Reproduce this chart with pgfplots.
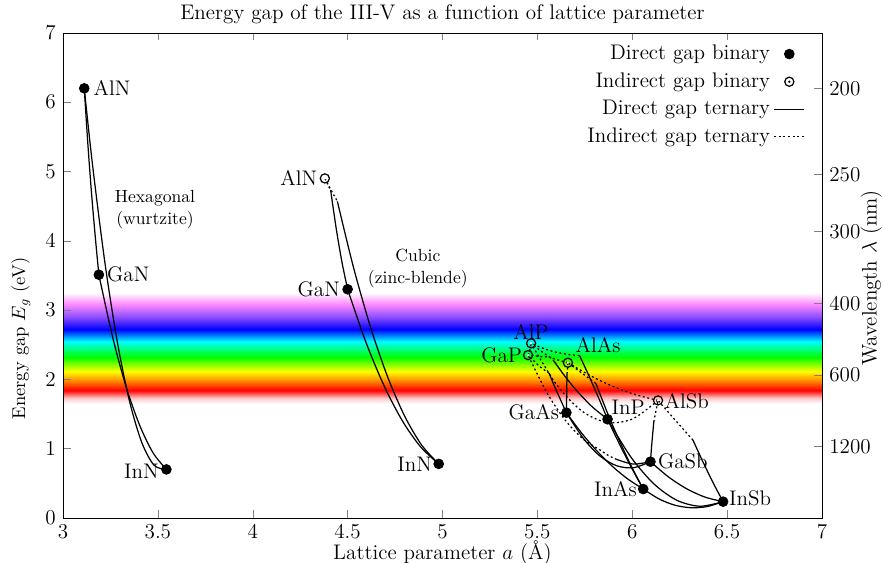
\documentclass[12pt,border=0pt]{standalone}
\usepackage{pgfplots}
\pgfplotsset{compat=1.18}

% open circle with a centre dot for indirect-gap binaries
\pgfdeclareplotmark{odot}{%
  \pgfpathcircle{\pgfpointorigin}{\pgfplotmarksize}\pgfusepathqstroke
  \pgfpathcircle{\pgfpointorigin}{0.28\pgfplotmarksize}\pgfusepathqfill}

% visible spectrum band (the central 25bp..75bp is mapped onto the box)
\definecolor{spPink}{rgb}{1,0.78,0.78}
\definecolor{spRed}{rgb}{1,0,0}
\definecolor{spOrange}{rgb}{1,0.5,0}
\definecolor{spYellow}{rgb}{1,1,0}
\definecolor{spGreen}{rgb}{0,1,0}
\definecolor{spCyan}{rgb}{0,1,1}
\definecolor{spBlue}{rgb}{0,0,1}
\definecolor{spViolet}{rgb}{0.55,0.3,1}
\definecolor{spMagenta}{rgb}{1,0.55,1}
\pgfdeclareverticalshading{visible}{100bp}{%
  color(0bp)=(white); color(25bp)=(white); color(27.5bp)=(spPink);
  color(31bp)=(spRed); color(35bp)=(spOrange); color(39.5bp)=(spYellow);
  color(46bp)=(spGreen); color(53bp)=(spCyan); color(58.5bp)=(spBlue);
  color(64bp)=(spViolet); color(70bp)=(spMagenta); color(75bp)=(white);
  color(100bp)=(white)}

\tikzset{
  dir/.style={black, line width=0.7pt, smooth},
  ind/.style={black, line width=0.7pt, smooth, dash pattern=on 1.1pt off 1.5pt},
  lab/.style={inner sep=1pt},
}

\begin{document}
\begin{tikzpicture}
\begin{axis}[
  scale only axis, width=431.25pt, height=275.6pt,
  xmin=3, xmax=7, ymin=0, ymax=7,
  xtick={3,3.5,...,7}, ytick={0,1,...,7},
  ytick pos=left, tick align=inside,
  axis on top,
  title={Energy gap of the III-V as a function of lattice parameter},
  title style={yshift=-5pt},
  xlabel={Lattice parameter $a$ (\AA)},
  ylabel={Energy gap $E_g$ (eV)},
  every axis y label/.style={at={(rel axis cs:0,0.37)}, anchor=center, xshift=-24pt, rotate=90, font=\fontsize{10.5}{12}\selectfont},
  every axis x label/.style={at={(rel axis cs:0.5,0)}, anchor=center, yshift=-19.5pt},
  legend plot pos=right,
  legend cell align=right,
  legend style={at={(rel axis cs:0.985,0.99)}, anchor=north east, draw=none, fill=none,
    row sep=1.6pt},
]
% visible range of the spectrum
\path[shade, shading=visible] (axis cs:3,1.65) rectangle (axis cs:7,3.25);

% legend samples
\addlegendimage{only marks, mark=*, mark size=2.8pt, black}
\addlegendentry{Direct gap binary}
\addlegendimage{only marks, mark=odot, mark size=2.6pt, black, mark options={line width=0.7pt}}
\addlegendentry{Indirect gap binary}
\addlegendimage{black, line width=0.7pt}
\addlegendentry{Direct gap ternary}
\addlegendimage{black, line width=0.7pt, dash pattern=on 1.1pt off 1.5pt}
\addlegendentry{Indirect gap ternary}

% ---- wurtzite nitrides
\addplot[dir, forget plot] coordinates {(3.112,6.2) (3.131,5.396) (3.1505,4.68) (3.170,4.059) (3.189,3.51)};
\addplot[dir, forget plot] coordinates {(3.112,6.2) (3.155,5.11) (3.220,3.70) (3.285,2.56) (3.350,1.69) (3.415,1.09) (3.480,0.76) (3.545,0.7)};
\addplot[dir, forget plot] coordinates {(3.189,3.51) (3.260,2.628) (3.331,1.906) (3.403,1.344) (3.474,0.942) (3.545,0.7)};

% ---- zinc-blende nitrides
\addplot[ind, forget plot] coordinates {(4.38,4.9) (4.396,4.81) (4.4106,4.73)};
\addplot[dir, forget plot] coordinates {(4.4106,4.73) (4.44,4.175) (4.47,3.694) (4.50,3.30)};
\addplot[ind, forget plot] coordinates {(4.38,4.9) (4.413,4.73) (4.446,4.569)};
\addplot[dir, forget plot] coordinates {(4.446,4.569) (4.53,3.626) (4.62,2.76) (4.71,2.042) (4.80,1.473) (4.89,1.052) (4.98,0.78)};
\addplot[dir, forget plot] coordinates {(4.50,3.30) (4.596,2.54) (4.692,1.908) (4.788,1.404) (4.884,1.028) (4.98,0.78)};

% ---- phosphides, arsenides, antimonides
% AlGaP
\addplot[ind, forget plot] coordinates {(5.451,2.35) (5.459,2.40) (5.467,2.52)};
% AlInP
\addplot[dir, forget plot] coordinates {(5.870,1.424) (5.8297,1.688) (5.7894,1.942) (5.749,2.187) (5.722,2.345)};
\addplot[ind, forget plot] coordinates {(5.722,2.345) (5.6685,2.357) (5.588,2.399) (5.527,2.452) (5.467,2.52)};
% GaInP
\addplot[dir, forget plot] coordinates {(5.870,1.424) (5.786,1.612) (5.702,1.853) (5.639,2.068) (5.589,2.258)};
\addplot[ind, forget plot] coordinates {(5.589,2.258) (5.566,2.320) (5.513,2.330) (5.451,2.35)};
% AlGaAs
\addplot[dir, forget plot] coordinates {(5.653,1.519) (5.6546,1.813) (5.6563,2.076)};
\addplot[ind, forget plot] coordinates {(5.6563,2.076) (5.6586,2.151) (5.661,2.24)};
% AlInAs
\addplot[dir, forget plot] coordinates {(6.058,0.417) (5.998,0.730) (5.939,1.075) (5.879,1.451) (5.808,1.941)};
\addplot[ind, forget plot] coordinates {(5.808,1.941) (5.740,2.079) (5.661,2.24)};
% GaInAs
\addplot[dir, forget plot] coordinates {(6.058,0.417) (5.977,0.561) (5.896,0.743) (5.815,0.964) (5.734,1.222) (5.653,1.519)};
% AlGaSb
\addplot[dir, forget plot] coordinates {(6.096,0.812) (6.104,1.095) (6.1137,1.387)};
\addplot[ind, forget plot] coordinates {(6.1137,1.387) (6.124,1.5295) (6.136,1.696)};
% GaInSb
\addplot[dir, forget plot] coordinates {(6.479,0.235) (6.383,0.301) (6.2875,0.420) (6.192,0.590) (6.096,0.812)};
% AlInSb
\addplot[dir, forget plot] coordinates {(6.479,0.235) (6.427,0.503) (6.376,0.790) (6.320,1.123)};
\addplot[ind, forget plot] coordinates {(6.320,1.123) (6.221,1.4295) (6.136,1.696)};
% GaAsSb
\addplot[dir, forget plot] coordinates {(6.096,0.812) (6.007,0.725) (5.919,0.752) (5.830,0.893) (5.742,1.149) (5.653,1.519)};
% InAsSb
\addplot[dir, forget plot] coordinates {(6.479,0.235) (6.395,0.164) (6.311,0.147) (6.226,0.183) (6.142,0.273) (6.058,0.417)};
% AlAsSb
\addplot[ind, forget plot] coordinates {(6.136,1.696) (6.017,1.780) (5.8985,1.898) (5.780,2.052) (5.661,2.24)};
% GaPAs
\addplot[dir, forget plot] coordinates {(5.653,1.519) (5.623,1.700) (5.592,1.889) (5.562,2.088)};
\addplot[ind, forget plot] coordinates {(5.562,2.088) (5.511,2.189) (5.451,2.35)};
% InPAs
\addplot[dir, forget plot] coordinates {(6.058,0.417) (6.011,0.650) (5.964,0.8955) (5.917,1.153) (5.870,1.424)};
% AlPAs
\addplot[ind, forget plot] coordinates {(5.661,2.24) (5.564,2.325) (5.467,2.52)};
% GaPSb
\addplot[dir, forget plot] coordinates {(6.096,0.812) (6.006,0.777) (5.918,0.844)};
\addplot[ind, forget plot] coordinates {(5.918,0.844) (5.870,0.907) (5.826,0.989) (5.741,1.138) (5.644,1.420) (5.547,1.824) (5.451,2.35)};
% InPSb
\addplot[dir, forget plot] coordinates {(6.479,0.235) (6.357,0.169) (6.235,0.255) (6.114,0.492) (5.992,0.882) (5.870,1.424)};
% AlPSb
\addplot[ind, forget plot] coordinates {(6.136,1.696) (6.002,1.429) (5.868,1.378) (5.735,1.542) (5.601,1.923) (5.467,2.52)};

% ---- binaries
\addplot[only marks, mark=*, mark size=2.8pt, black, forget plot] coordinates {
  (3.112,6.2) (3.189,3.51) (3.545,0.7)
  (4.50,3.30) (4.98,0.78)
  (5.653,1.519) (5.870,1.424) (6.096,0.812) (6.058,0.417) (6.479,0.235)};
\addplot[only marks, mark=odot, mark size=2.6pt, black, mark options={line width=0.7pt, fill=white}, forget plot] coordinates {
  (4.38,4.9) (5.467,2.52) (5.451,2.35) (5.661,2.24) (6.136,1.696)};

% ---- names
\node[lab, anchor=west] at (axis cs:3.15,6.2) {AlN};
\node[lab, anchor=west] at (axis cs:3.222,3.51) {GaN};
\node[lab, anchor=east] at (axis cs:3.515,0.68) {InN};
\node[font=\footnotesize, align=center] at (axis cs:3.485,4.45) {Hexagonal\\(wurtzite)};
\node[lab, anchor=east] at (axis cs:4.35,4.9) {AlN};
\node[lab, anchor=east] at (axis cs:4.47,3.3) {GaN};
\node[lab, anchor=east] at (axis cs:4.955,0.78) {InN};
\node[font=\footnotesize, align=center] at (axis cs:4.87,3.6) {Cubic\\(zinc-blende)};
\node[lab, anchor=south] at (axis cs:5.467,2.55) {AlP};
\node[lab, anchor=east] at (axis cs:5.43,2.35) {GaP};
\node[lab, anchor=west] at (axis cs:5.69,2.50) {AlAs};
\node[lab, anchor=west] at (axis cs:6.16,1.69) {AlSb};
\node[lab, anchor=east] at (axis cs:5.625,1.52) {GaAs};
\node[lab, anchor=west] at (axis cs:5.88,1.59) {InP};
\node[lab, anchor=west] at (axis cs:6.125,0.82) {GaSb};
\node[lab, anchor=east] at (axis cs:6.035,0.42) {InAs};
\node[lab, anchor=west] at (axis cs:6.50,0.28) {InSb};
\end{axis}

% wavelength scale, lambda = 1240 / E
\begin{axis}[
  scale only axis, width=431.25pt, height=275.6pt,
  xmin=3, xmax=7, ymin=0, ymax=7,
  axis x line=none, axis y line*=right, tick align=inside,
  ytick={6.2,4.96,4.133,3.1,2.067,1.033},
  yticklabels={200,250,300,400,600,1200},
  ylabel={Wavelength $\lambda$ (nm)},
  every axis y label/.style={at={(rel axis cs:1,0.495)}, anchor=center, xshift=28pt, rotate=90},
]
\end{axis}

\pgfresetboundingbox
\path[use as bounding box] (-35.8pt,-25.6pt) rectangle (466.5pt,294.3pt);
\end{tikzpicture}
\end{document}
